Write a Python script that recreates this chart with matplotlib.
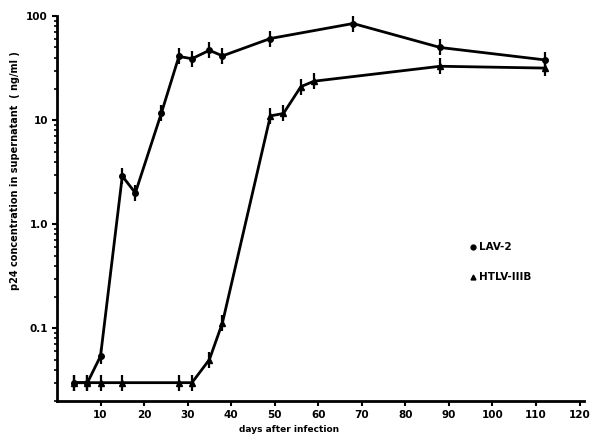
import matplotlib
matplotlib.use("Agg")
import matplotlib.pyplot as plt
from matplotlib.ticker import LogLocator, NullFormatter, FixedLocator, FixedFormatter

# days after infection and p24 (ng/ml)
lav2_days = [4, 7, 10, 15, 18, 24, 28, 31, 35, 38, 49, 68, 88, 112]
lav2_p24 = [0.03, 0.03, 0.054, 2.9, 2.0, 11.8, 41, 39, 47, 41.5, 61, 85, 50, 38]

htlv_days = [4, 7, 10, 15, 28, 31, 35, 38, 49, 52, 56, 59, 88, 112]
htlv_p24 = [0.03, 0.03, 0.03, 0.03, 0.03, 0.03, 0.05, 0.113, 11, 11.6, 21, 23.7, 33, 31.7]

xticks = [10, 20, 30, 40, 50, 60, 70, 80, 90, 100, 110, 120]
yticks = [0.1, 1.0, 10, 100]
ytick_labels = ["0.1", "1.0", "10", "100"]

fig = plt.figure(figsize=(5.91, 4.37), dpi=100)
ax = fig.add_axes([0.0964, 0.0824, 0.8916, 0.8806])

for days, vals, mk in [(lav2_days, lav2_p24, "o"), (htlv_days, htlv_p24, "^")]:
    ax.plot(days, vals, color="black", lw=2.0, marker=mk, ms=4, zorder=3)
    ax.plot(days, vals, ls="none", marker="|", ms=11, mew=1.6, color="black", zorder=4)

ax.set_yscale("log")
ax.set_xlim(0, 121)
ax.set_ylim(0.02, 100)

ax.yaxis.set_major_locator(FixedLocator(yticks))
ax.yaxis.set_major_formatter(FixedFormatter(ytick_labels))
ax.yaxis.set_minor_locator(LogLocator(base=10, subs=range(2, 10)))
ax.yaxis.set_minor_formatter(NullFormatter())
ax.set_xticks(xticks)

for s in ["top", "right"]:
    ax.spines[s].set_visible(False)
for s in ["left", "bottom"]:
    ax.spines[s].set_linewidth(2)

ax.tick_params(axis="both", which="major", length=3.5, width=1.5, labelsize=7.5, pad=3)
ax.tick_params(axis="y", which="minor", length=2.5, width=1.2)
for lbl in ax.get_xticklabels() + ax.get_yticklabels():
    lbl.set_fontweight("bold")

ax.set_xlabel("days after infection", fontsize=6.5, fontweight="bold")
ax.xaxis.set_label_coords(0.44, -0.062)
ax.set_ylabel("p24 concentration in supernatant  ( ng/ml )", fontsize=7,
              fontweight="bold")
ax.yaxis.set_label_coords(-0.07, 0.6)

# legend drawn as text in data coordinates
ax.plot([95.5], [0.6], marker="o", ms=3.5, color="black", ls="none")
ax.text(96.8, 0.6, "LAV-2", fontsize=7.5, fontweight="bold", va="center")
ax.plot([95.5], [0.31], marker="^", ms=3.5, color="black", ls="none")
ax.text(96.8, 0.31, "HTLV-IIIB", fontsize=7.5, fontweight="bold", va="center")

fig.savefig("out.png", dpi=100)
